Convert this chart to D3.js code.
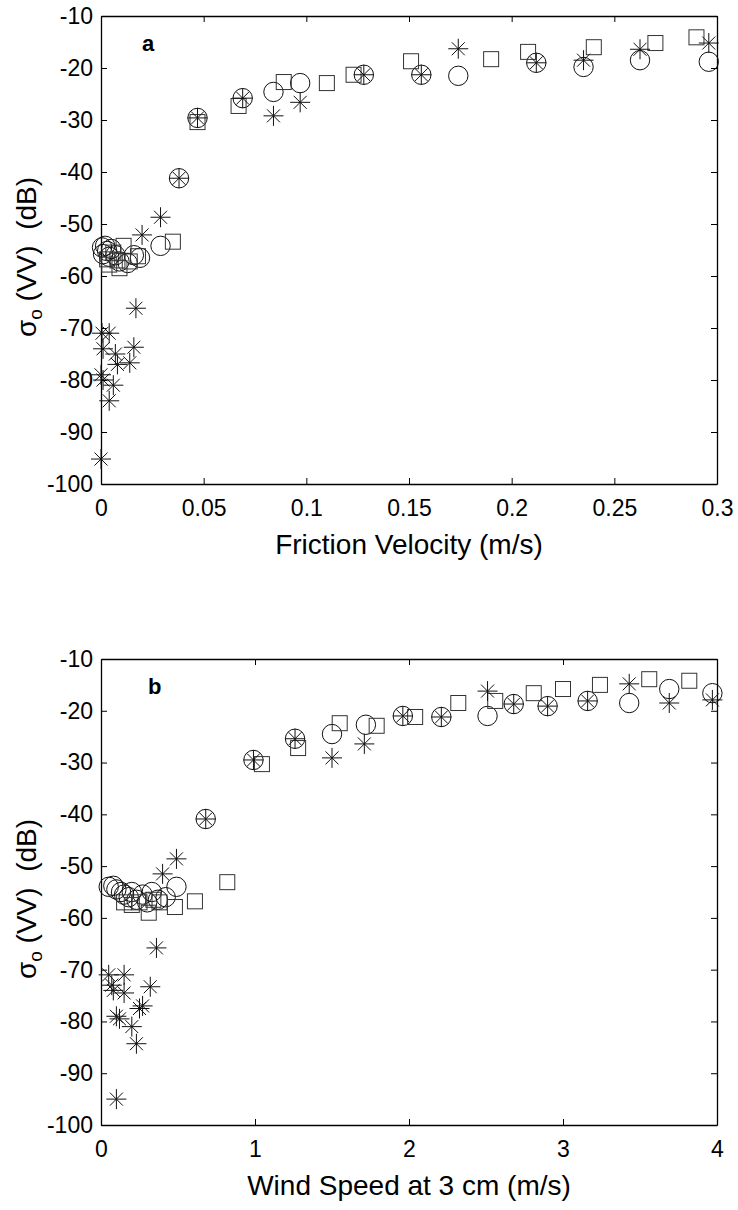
<!DOCTYPE html>
<html>
<head>
<meta charset="utf-8">
<script src="https://cdn.jsdelivr.net/npm/d3@7"></script>
<style>
  body { margin: 0; background: #fff; }
  text { font-family: "Liberation Sans", Arial, sans-serif; }
</style>
</head>
<body>
<div id="chart"></div>
<script>
let w = 738;
let h = 1210;

// tick values
let yTicks = [-100, -90, -80, -70, -60, -50, -40, -30, -20, -10];
let fvTicks = [0, 0.05, 0.1, 0.15, 0.2, 0.25, 0.3];
let wsTicks = [0, 1, 2, 3, 4];

// panel a : friction velocity (m/s) vs sigma0 (dB)
let aCircles = [
  [0.0005, -54.5], [0.001, -55.8], [0.002, -54.2], [0.003, -55.2], [0.004, -56.3],
  [0.005, -54.8], [0.007, -56], [0.009, -57.2], [0.013, -57.5], [0.016, -56],
  [0.019, -56.5], [0.029, -54.2], [0.038, -41.2], [0.047, -29.6], [0.069, -25.8],
  [0.084, -24.6], [0.097, -22.9], [0.128, -21.3], [0.156, -21.3], [0.174, -21.5],
  [0.212, -19.0], [0.235, -19.8], [0.2625, -18.5], [0.296, -18.8]
];
let aSquares = [
  [0.003, -56.8], [0.004, -57.8], [0.006, -55.5], [0.008, -57], [0.009, -58.5],
  [0.011, -54.2], [0.014, -57.2], [0.018, -56.2], [0.035, -53.4], [0.047, -30.4],
  [0.067, -27.3], [0.089, -22.7], [0.110, -22.9], [0.123, -21.3], [0.151, -18.7],
  [0.190, -18.3], [0.208, -16.9], [0.240, -16.0], [0.270, -15.2], [0.290, -14.1]
];
let aStars = [
  [0.0005, -71], [0.004, -71], [0.001, -74], [0.007, -75], [0.008, -77],
  [0.014, -76.7], [0.016, -73.7], [0.017, -66.2], [0.0, -79], [0.001, -80],
  [0.006, -81], [0.004, -84], [0.0, -95.2], [0.020, -52.1], [0.029, -48.7],
  [0.038, -41.2], [0.047, -29.6], [0.069, -25.8], [0.084, -29.2], [0.097, -26.6],
  [0.128, -21.3], [0.156, -21.3], [0.174, -16.3], [0.212, -19.0], [0.235, -18.5],
  [0.2625, -16.4], [0.296, -15.2]
];

// panel b : wind speed at 3 cm (m/s) vs sigma0 (dB)
let bCircles = [
  [0.05, -54], [0.08, -53.8], [0.1, -54.5], [0.13, -55], [0.15, -55.5],
  [0.18, -56], [0.2, -55], [0.23, -56.5], [0.27, -55.5], [0.3, -57],
  [0.33, -55], [0.37, -56.5], [0.42, -56], [0.49, -54], [0.68, -40.9],
  [0.99, -29.5], [1.26, -25.4], [1.50, -24.5], [1.72, -22.7], [1.96, -21.0],
  [2.21, -21.2], [2.51, -21.0], [2.68, -18.7], [2.90, -19.1], [3.16, -18.1],
  [3.43, -18.5], [3.69, -15.8], [3.97, -16.6]
];
let bSquares = [
  [0.15, -57], [0.2, -57.5], [0.25, -57], [0.31, -59], [0.34, -56.5],
  [0.38, -57], [0.48, -57.9], [0.61, -56.8], [0.82, -53.1], [1.045, -30.3],
  [1.28, -27.2], [1.55, -22.4], [1.79, -22.9], [2.04, -21.2], [2.32, -18.5],
  [2.56, -18.1], [2.81, -16.6], [3.0, -15.8], [3.24, -15.0], [3.56, -13.9],
  [3.82, -14.2]
];
let bStars = [
  [0.05, -71], [0.07, -73], [0.08, -74], [0.15, -71], [0.15, -74.5],
  [0.1, -79], [0.12, -79.5], [0.2, -81], [0.25, -77.5], [0.27, -77],
  [0.32, -73.3], [0.36, -65.8], [0.23, -84.3], [0.1, -95], [0.40, -51.5],
  [0.49, -48.6], [0.68, -40.9], [0.99, -29.5], [1.26, -25.4], [1.50, -29.1],
  [1.71, -26.4], [1.96, -21.0], [2.21, -21.2], [2.51, -16.2], [2.68, -18.7],
  [2.90, -19.1], [3.16, -18.1], [3.43, -14.8], [3.69, -18.5], [3.97, -17.9]
];

let viz = d3.select("#chart")
  .append("svg")
  .attr("width", w)
  .attr("height", h)
  .style("background-color", "white");

function drawPanel(top, bottom, xDomain, xTicks, xTitle, letter, letterX, circles, squares, stars) {
  let left = 101, right = 717;
  let xScale = d3.scaleLinear().domain(xDomain).range([left, right]);
  let yScale = d3.scaleLinear().domain([-100, -10]).range([bottom, top]);

  let g = viz.append("g");

  // axes, ticks pointing inward like matlab
  let xAxis = d3.axisBottom(xScale).tickValues(xTicks).tickSizeInner(-6).tickSizeOuter(0)
    .tickPadding(16).tickFormat(d => String(d));
  let xAxisTop = d3.axisTop(xScale).tickValues(xTicks).tickSizeInner(-6).tickSizeOuter(0)
    .tickFormat("");
  let yAxis = d3.axisLeft(yScale).tickValues(yTicks).tickSizeInner(-6).tickSizeOuter(0)
    .tickPadding(8).tickFormat(d => String(d));
  let yAxisRight = d3.axisRight(yScale).tickValues(yTicks).tickSizeInner(-6).tickSizeOuter(0)
    .tickFormat("");

  g.append("g").attr("transform", "translate(0," + bottom + ")").call(xAxis);
  g.append("g").attr("transform", "translate(0," + top + ")").call(xAxisTop);
  g.append("g").attr("transform", "translate(" + left + ",0)").call(yAxis);
  g.append("g").attr("transform", "translate(" + right + ",0)").call(yAxisRight);

  g.selectAll(".domain").attr("stroke", "#000").attr("stroke-width", 1.3);
  g.selectAll(".tick line").attr("stroke", "#000");
  g.selectAll(".tick text").attr("font-size", 23).attr("fill", "#000")
    .style("font-family", "'Liberation Sans', Arial, sans-serif");

  // x title
  g.append("text")
    .attr("x", (left + right) / 2)
    .attr("y", bottom + 70)
    .attr("text-anchor", "middle")
    .attr("font-size", 28)
    .text(xTitle);

  // y title with subscript
  let yt = g.append("text")
    .attr("transform", "translate(36," + ((top + bottom) / 2 + 7) + ") rotate(-90)")
    .attr("text-anchor", "middle")
    .attr("font-size", 28);
  yt.append("tspan").text("σ");
  yt.append("tspan").attr("font-size", 19).attr("dy", 6).text("o");
  yt.append("tspan").attr("dy", -6).text("\u00a0(VV)\u00a0\u00a0(dB)");

  // panel letter
  g.append("text")
    .attr("x", letterX)
    .attr("y", top + 35)
    .attr("font-size", 22)
    .attr("font-weight", "bold")
    .text(letter);

  // markers
  g.selectAll(".circ").data(circles).enter()
    .append("circle")
    .attr("class", "circ")
    .attr("cx", d => xScale(d[0]))
    .attr("cy", d => yScale(d[1]))
    .attr("r", 9.7)
    .attr("fill", "none")
    .attr("stroke", "#111")
    .attr("stroke-width", 1);

  g.selectAll(".sq").data(squares).enter()
    .append("rect")
    .attr("class", "sq")
    .attr("x", d => xScale(d[0]) - 7.5)
    .attr("y", d => yScale(d[1]) - 7.5)
    .attr("width", 15)
    .attr("height", 15)
    .attr("fill", "none")
    .attr("stroke", "#333")
    .attr("stroke-width", 1);

  let r = 10, k = 6.5;
  let starPath = "M" + (-r) + ",0H" + r + "M0," + (-r) + "V" + r +
    "M" + (-k) + "," + (-k) + "L" + k + "," + k + "M" + (-k) + "," + k + "L" + k + "," + (-k);
  g.selectAll(".star").data(stars).enter()
    .append("path")
    .attr("class", "star")
    .attr("d", starPath)
    .attr("transform", d => "translate(" + xScale(d[0]) + "," + yScale(d[1]) + ")")
    .attr("fill", "none")
    .attr("stroke", "#111")
    .attr("stroke-width", 1);
}

drawPanel(16, 484, [0, 0.3], fvTicks, "Friction Velocity (m/s)", "a", 142, aCircles, aSquares, aStars);
drawPanel(659, 1125, [0, 4], wsTicks, "Wind Speed at 3 cm (m/s)", "b", 148, bCircles, bSquares, bStars);
</script>
</body>
</html>
